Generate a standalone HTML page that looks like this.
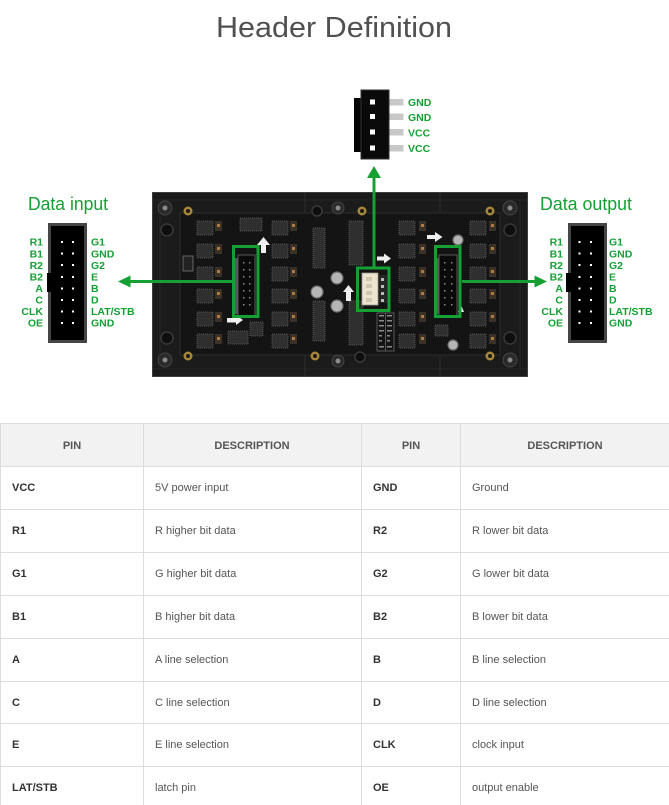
<!DOCTYPE html>
<html><head><meta charset="utf-8">
<style>
html,body{margin:0;padding:0;background:#fff;}
body{width:669px;height:805px;overflow:hidden;position:relative;}
svg{display:block;position:absolute;left:0;top:0;}
text{font-family:"Liberation Sans",Arial,sans-serif;}
</style></head>
<body>
<svg width="669" height="805" viewBox="0 0 669 805" xmlns="http://www.w3.org/2000/svg">
<rect x="0" y="0" width="669" height="805" fill="#fff"/>
<!-- Title -->
<text x="216" y="37" font-size="29" fill="#505050" textLength="236" lengthAdjust="spacingAndGlyphs">Header Definition</text>

<!-- ===== Panel ===== -->
<rect x="152.5" y="192.5" width="375" height="184" fill="#1b1b1b" stroke="#3e3e3e"/>
<rect x="180" y="213" width="320" height="142" fill="#141414" stroke="#2c2c2c"/>
<line x1="153" y1="200" x2="527" y2="200" stroke="#262626"/>
<line x1="153" y1="369" x2="527" y2="369" stroke="#262626"/>
<line x1="305" y1="193" x2="305" y2="213" stroke="#2c2c2c"/>
<line x1="440" y1="193" x2="440" y2="213" stroke="#2c2c2c"/>
<line x1="305" y1="355" x2="305" y2="376" stroke="#2c2c2c"/>
<line x1="440" y1="355" x2="440" y2="376" stroke="#2c2c2c"/>
<line x1="160" y1="200" x2="160" y2="370" stroke="#262626"/>
<line x1="520" y1="200" x2="520" y2="370" stroke="#262626"/>

<!-- side bosses -->
<g fill="#0e0e0e" stroke="#383838" stroke-width="1.5">
<circle cx="167" cy="230" r="6"/><circle cx="167" cy="338" r="6"/>
<circle cx="510" cy="230" r="6"/><circle cx="510" cy="338" r="6"/>
<circle cx="317" cy="211" r="5"/><circle cx="360" cy="357" r="5"/>
</g>
<!-- grey screws -->
<g>
<circle cx="165" cy="208" r="7" fill="#2a2a2a" stroke="#444"/><circle cx="165" cy="208" r="2.5" fill="#8a8a8a"/>
<circle cx="510" cy="208" r="7" fill="#2a2a2a" stroke="#444"/><circle cx="510" cy="208" r="2.5" fill="#8a8a8a"/>
<circle cx="165" cy="360" r="7" fill="#2a2a2a" stroke="#444"/><circle cx="165" cy="360" r="2.5" fill="#8a8a8a"/>
<circle cx="510" cy="360" r="7" fill="#2a2a2a" stroke="#444"/><circle cx="510" cy="360" r="2.5" fill="#8a8a8a"/>
<circle cx="338" cy="208" r="6" fill="#2a2a2a" stroke="#444"/><circle cx="338" cy="208" r="2.5" fill="#8a8a8a"/>
<circle cx="338" cy="361" r="6" fill="#2a2a2a" stroke="#444"/><circle cx="338" cy="361" r="2.5" fill="#8a8a8a"/>
</g>
<!-- gold screws -->
<g fill="#a8873a">
<circle cx="188" cy="211" r="4.5"/><circle cx="362" cy="211" r="4.5"/><circle cx="490" cy="211" r="4.5"/>
<circle cx="188" cy="356" r="4.5"/><circle cx="315" cy="356" r="4.5"/><circle cx="490" cy="356" r="4.5"/>
</g>
<g fill="#1a1a1a">
<circle cx="188" cy="211" r="2"/><circle cx="362" cy="211" r="2"/><circle cx="490" cy="211" r="2"/>
<circle cx="188" cy="356" r="2"/><circle cx="315" cy="356" r="2"/><circle cx="490" cy="356" r="2"/>
</g>

<!-- chips -->
<g fill="#2f2f2f" stroke="#555" stroke-width="1" stroke-dasharray="1,1">
<rect x="197" y="221" width="16" height="14"/><rect x="197" y="244" width="16" height="14"/><rect x="197" y="267" width="16" height="14"/>
<rect x="197" y="289" width="16" height="14"/><rect x="197" y="312" width="16" height="14"/><rect x="197" y="334" width="16" height="14"/>
<rect x="272" y="221" width="16" height="14"/><rect x="272" y="244" width="16" height="14"/><rect x="272" y="267" width="16" height="14"/>
<rect x="272" y="289" width="16" height="14"/><rect x="272" y="312" width="16" height="14"/><rect x="272" y="334" width="16" height="14"/>
<rect x="399" y="221" width="16" height="14"/><rect x="399" y="244" width="16" height="14"/><rect x="399" y="267" width="16" height="14"/>
<rect x="399" y="289" width="16" height="14"/><rect x="399" y="312" width="16" height="14"/><rect x="399" y="334" width="16" height="14"/>
<rect x="470" y="221" width="16" height="14"/><rect x="470" y="244" width="16" height="14"/><rect x="470" y="267" width="16" height="14"/>
<rect x="470" y="289" width="16" height="14"/><rect x="470" y="312" width="16" height="14"/><rect x="470" y="334" width="16" height="14"/>
<rect x="240" y="218" width="22" height="13"/><rect x="228" y="331" width="20" height="13"/>
<rect x="250" y="322" width="13" height="14"/><rect x="435" y="325" width="13" height="11"/>
<rect x="313" y="228" width="12" height="40"/><rect x="313" y="301" width="12" height="40"/>
<rect x="349" y="221" width="14" height="44"/><rect x="349" y="301" width="14" height="44"/>
</g>
<!-- small components -->
<g fill="#3a3128">
<rect x="215" y="221" width="7" height="10"/><rect x="215" y="244" width="7" height="10"/><rect x="215" y="267" width="7" height="10"/>
<rect x="215" y="289" width="7" height="10"/><rect x="215" y="312" width="7" height="10"/><rect x="215" y="334" width="7" height="10"/>
<rect x="290" y="221" width="7" height="10"/><rect x="290" y="244" width="7" height="10"/><rect x="290" y="267" width="7" height="10"/>
<rect x="290" y="289" width="7" height="10"/><rect x="290" y="312" width="7" height="10"/><rect x="290" y="334" width="7" height="10"/>
<rect x="419" y="221" width="7" height="10"/><rect x="419" y="244" width="7" height="10"/><rect x="419" y="267" width="7" height="10"/>
<rect x="419" y="289" width="7" height="10"/><rect x="419" y="312" width="7" height="10"/><rect x="419" y="334" width="7" height="10"/>
<rect x="489" y="221" width="7" height="10"/><rect x="489" y="244" width="7" height="10"/><rect x="489" y="267" width="7" height="10"/>
<rect x="489" y="289" width="7" height="10"/><rect x="489" y="312" width="7" height="10"/><rect x="489" y="334" width="7" height="10"/>
</g>
<g fill="#b07a3a">
<rect x="217" y="224" width="3" height="3"/><rect x="217" y="247" width="3" height="3"/><rect x="217" y="270" width="3" height="3"/>
<rect x="217" y="292" width="3" height="3"/><rect x="217" y="315" width="3" height="3"/><rect x="217" y="337" width="3" height="3"/>
<rect x="292" y="224" width="3" height="3"/><rect x="292" y="247" width="3" height="3"/><rect x="292" y="270" width="3" height="3"/>
<rect x="292" y="292" width="3" height="3"/><rect x="292" y="315" width="3" height="3"/><rect x="292" y="337" width="3" height="3"/>
<rect x="421" y="224" width="3" height="3"/><rect x="421" y="247" width="3" height="3"/><rect x="421" y="270" width="3" height="3"/>
<rect x="421" y="292" width="3" height="3"/><rect x="421" y="315" width="3" height="3"/><rect x="421" y="337" width="3" height="3"/>
<rect x="491" y="224" width="3" height="3"/><rect x="491" y="247" width="3" height="3"/><rect x="491" y="270" width="3" height="3"/>
<rect x="491" y="292" width="3" height="3"/><rect x="491" y="315" width="3" height="3"/><rect x="491" y="337" width="3" height="3"/>
</g>
<!-- left side component -->
<rect x="183" y="256" width="10" height="15" fill="#222" stroke="#777" stroke-width="0.8"/>
<!-- capacitors -->
<g fill="#b5b5b5" stroke="#6a6a6a" stroke-width="1.2">
<circle cx="337" cy="278" r="6"/><circle cx="317" cy="292" r="6"/><circle cx="337" cy="306" r="6"/>
<circle cx="458" cy="240" r="5"/><circle cx="453" cy="345" r="5"/>
</g>

<!-- internal header connectors -->
<rect x="234" y="258" width="4" height="56" fill="#5a5a5a"/>
<rect x="238" y="255" width="17" height="61" fill="#0a0a0a" stroke="#5a5a5a"/>
<rect x="436" y="258" width="3" height="56" fill="#5a5a5a"/>
<rect x="439" y="255" width="18" height="61" fill="#0a0a0a" stroke="#5a5a5a"/>
<g fill="#8a8a8a">
<rect x="243" y="262" width="1.5" height="1.5"/><rect x="249" y="262" width="1.5" height="1.5"/>
<rect x="243" y="269" width="1.5" height="1.5"/><rect x="249" y="269" width="1.5" height="1.5"/>
<rect x="243" y="276" width="1.5" height="1.5"/><rect x="249" y="276" width="1.5" height="1.5"/>
<rect x="243" y="283" width="1.5" height="1.5"/><rect x="249" y="283" width="1.5" height="1.5"/>
<rect x="243" y="290" width="1.5" height="1.5"/><rect x="249" y="290" width="1.5" height="1.5"/>
<rect x="243" y="297" width="1.5" height="1.5"/><rect x="249" y="297" width="1.5" height="1.5"/>
<rect x="243" y="304" width="1.5" height="1.5"/><rect x="249" y="304" width="1.5" height="1.5"/>
<rect x="444" y="262" width="1.5" height="1.5"/><rect x="451" y="262" width="1.5" height="1.5"/>
<rect x="444" y="269" width="1.5" height="1.5"/><rect x="451" y="269" width="1.5" height="1.5"/>
<rect x="444" y="276" width="1.5" height="1.5"/><rect x="451" y="276" width="1.5" height="1.5"/>
<rect x="444" y="283" width="1.5" height="1.5"/><rect x="451" y="283" width="1.5" height="1.5"/>
<rect x="444" y="290" width="1.5" height="1.5"/><rect x="451" y="290" width="1.5" height="1.5"/>
<rect x="444" y="297" width="1.5" height="1.5"/><rect x="451" y="297" width="1.5" height="1.5"/>
<rect x="444" y="304" width="1.5" height="1.5"/><rect x="451" y="304" width="1.5" height="1.5"/>
</g>
<!-- middle power connector -->
<rect x="362" y="273" width="16" height="32" fill="#ebe5d0" stroke="#9a9a8a" stroke-width="0.8"/>
<g fill="#cfc7ae">
<rect x="366" y="277" width="6" height="4"/><rect x="366" y="284" width="6" height="4"/>
<rect x="366" y="291" width="6" height="4"/><rect x="366" y="298" width="6" height="4"/>
</g>
<rect x="379" y="275" width="8" height="28" fill="#262626"/>
<g fill="#bbb">
<rect x="381" y="278" width="3" height="3"/><rect x="381" y="285" width="3" height="3"/>
<rect x="381" y="292" width="3" height="3"/><rect x="381" y="299" width="3" height="3"/>
</g>
<!-- silkscreen table -->
<g stroke="#777" stroke-width="0.7" fill="none">
<rect x="377" y="313" width="17" height="38"/>
<line x1="385.5" y1="313" x2="385.5" y2="351"/>
</g>
<g fill="#8a8a8a">
<rect x="379" y="315" width="5" height="1.5"/><rect x="387" y="315" width="5" height="1.5"/>
<rect x="379" y="320" width="5" height="1.5"/><rect x="387" y="320" width="5" height="1.5"/>
<rect x="379" y="325" width="5" height="1.5"/><rect x="387" y="325" width="5" height="1.5"/>
<rect x="379" y="330" width="5" height="1.5"/><rect x="387" y="330" width="5" height="1.5"/>
<rect x="379" y="335" width="3" height="1.5"/><rect x="387" y="335" width="3" height="1.5"/>
<rect x="379" y="340" width="3" height="1.5"/><rect x="387" y="340" width="3" height="1.5"/>
<rect x="379" y="346" width="5" height="1.5"/><rect x="387" y="346" width="5" height="1.5"/>
</g>
<!-- white arrows on board -->
<g fill="#eeeeee">
<rect x="261" y="244" width="5" height="9"/><polygon points="257,245 263.5,237 270,245"/>
<rect x="227" y="318" width="9" height="4.5"/><polygon points="236,315 243,320 236,325"/>
<rect x="377" y="256.5" width="8" height="4"/><polygon points="384,253.5 391,258.5 384,263.5"/>
<rect x="346" y="291" width="5" height="10"/><polygon points="343,292 348.5,285 354,292"/>
<rect x="427" y="235" width="9" height="4"/><polygon points="435,232 442.5,237 435,242"/>
<polygon points="458,312 461,305 464,312"/>
</g>

<!-- green boxes -->
<g fill="none" stroke="#16a034" stroke-width="3">
<rect x="233.5" y="246.5" width="24.5" height="70"/>
<rect x="357.5" y="268" width="31.5" height="42.5"/>
<rect x="435.5" y="246.5" width="24.5" height="70"/>
</g>
<!-- green connectors -->
<g stroke="#16a034" stroke-width="3" fill="none">
<line x1="232" y1="281.5" x2="128" y2="281.5"/>
<line x1="462" y1="281.5" x2="537" y2="281.5"/>
<line x1="374" y1="267" x2="374" y2="176"/>
</g>
<g fill="#16a034">
<polygon points="118,281.5 130.5,275.5 130.5,287.5"/>
<polygon points="547,281.5 534.5,275.5 534.5,287.5"/>
<polygon points="374,166 367,178 381,178"/>
</g>

<!-- top power connector -->
<rect x="354" y="98" width="8" height="54" fill="#050505"/>
<rect x="361" y="90" width="28" height="69" fill="#0a0a0a" stroke="#333" stroke-width="1"/>
<g fill="#fff">
<rect x="370" y="99.5" width="5" height="5"/><rect x="370" y="114" width="5" height="5"/>
<rect x="370" y="129.5" width="5" height="5"/><rect x="370" y="145.5" width="5" height="5"/>
</g>
<g fill="#c8c8c8">
<rect x="389.5" y="99" width="14" height="6.5"/><rect x="389.5" y="113.5" width="14" height="6.5"/>
<rect x="389.5" y="129" width="14" height="6.5"/><rect x="389.5" y="145" width="14" height="6.5"/>
</g>
<g font-size="10.5" font-weight="bold" fill="#16a034">
<text x="408" y="106">GND</text>
<text x="408" y="121">GND</text>
<text x="408" y="136.5">VCC</text>
<text x="408" y="152">VCC</text>
</g>

<!-- left header -->
<text x="28" y="210" font-size="18" fill="#16a034" textLength="80" lengthAdjust="spacingAndGlyphs">Data input</text>
<rect x="48" y="223" width="39" height="120" fill="#454545"/>
<rect x="51" y="226" width="33" height="114" fill="#000"/>
<rect x="47" y="273" width="5" height="19" fill="#000"/>
<g fill="#fff">
<rect x="61" y="241" width="2" height="2"/><rect x="72" y="241" width="2" height="2"/>
<rect x="61" y="252.5" width="2" height="2"/><rect x="72" y="252.5" width="2" height="2"/>
<rect x="61" y="264" width="2" height="2"/><rect x="72" y="264" width="2" height="2"/>
<rect x="61" y="276" width="2" height="2"/><rect x="72" y="276" width="2" height="2"/>
<rect x="61" y="287.5" width="2" height="2"/><rect x="72" y="287.5" width="2" height="2"/>
<rect x="61" y="299" width="2" height="2"/><rect x="72" y="299" width="2" height="2"/>
<rect x="61" y="310.5" width="2" height="2"/><rect x="72" y="310.5" width="2" height="2"/>
<rect x="61" y="322" width="2" height="2"/><rect x="72" y="322" width="2" height="2"/>
</g>
<g font-size="10.5" font-weight="bold" fill="#16a034" text-anchor="end">
<text x="43" y="245.7">R1</text><text x="43" y="257.3">B1</text><text x="43" y="268.8">R2</text><text x="43" y="280.4">B2</text>
<text x="43" y="292">A</text><text x="43" y="303.5">C</text><text x="43" y="315.1">CLK</text><text x="43" y="326.7">OE</text>
</g>
<g font-size="10.5" font-weight="bold" fill="#16a034">
<text x="91" y="245.7">G1</text><text x="91" y="257.3">GND</text><text x="91" y="268.8">G2</text><text x="91" y="280.4">E</text>
<text x="91" y="292">B</text><text x="91" y="303.5">D</text><text x="91" y="315.1">LAT/STB</text><text x="91" y="326.7">GND</text>
</g>

<!-- right header -->
<text x="540" y="210" font-size="18" fill="#16a034" textLength="92" lengthAdjust="spacingAndGlyphs">Data output</text>
<rect x="568" y="223" width="39" height="120" fill="#454545"/>
<rect x="571" y="226" width="33" height="114" fill="#000"/>
<rect x="566" y="273" width="6" height="19" fill="#000"/>
<g fill="#fff">
<rect x="578.5" y="241" width="2" height="2"/><rect x="590" y="241" width="2" height="2"/>
<rect x="578.5" y="252.5" width="2" height="2"/><rect x="590" y="252.5" width="2" height="2"/>
<rect x="578.5" y="264" width="2" height="2"/><rect x="590" y="264" width="2" height="2"/>
<rect x="578.5" y="276" width="2" height="2"/><rect x="590" y="276" width="2" height="2"/>
<rect x="578.5" y="287.5" width="2" height="2"/><rect x="590" y="287.5" width="2" height="2"/>
<rect x="578.5" y="299" width="2" height="2"/><rect x="590" y="299" width="2" height="2"/>
<rect x="578.5" y="310.5" width="2" height="2"/><rect x="590" y="310.5" width="2" height="2"/>
<rect x="578.5" y="322" width="2" height="2"/><rect x="590" y="322" width="2" height="2"/>
</g>
<g font-size="10.5" font-weight="bold" fill="#16a034" text-anchor="end">
<text x="563" y="245.7">R1</text><text x="563" y="257.3">B1</text><text x="563" y="268.8">R2</text><text x="563" y="280.4">B2</text>
<text x="563" y="292">A</text><text x="563" y="303.5">C</text><text x="563" y="315.1">CLK</text><text x="563" y="326.7">OE</text>
</g>
<g font-size="10.5" font-weight="bold" fill="#16a034">
<text x="609" y="245.7">G1</text><text x="609" y="257.3">GND</text><text x="609" y="268.8">G2</text><text x="609" y="280.4">E</text>
<text x="609" y="292">B</text><text x="609" y="303.5">D</text><text x="609" y="315.1">LAT/STB</text><text x="609" y="326.7">GND</text>
</g>

<!-- ===== Table ===== -->
<rect x="0" y="423" width="670" height="43" fill="#f2f2f2"/>
<g stroke="#dddddd" stroke-width="1">
<line x1="0" y1="423.5" x2="669" y2="423.5"/>
<line x1="0" y1="466.5" x2="669" y2="466.5"/>
<line x1="0" y1="509.5" x2="669" y2="509.5"/>
<line x1="0" y1="552.5" x2="669" y2="552.5"/>
<line x1="0" y1="595.5" x2="669" y2="595.5"/>
<line x1="0" y1="638.5" x2="669" y2="638.5"/>
<line x1="0" y1="681.5" x2="669" y2="681.5"/>
<line x1="0" y1="723.5" x2="669" y2="723.5"/>
<line x1="0" y1="766.5" x2="669" y2="766.5"/>
<line x1="0.5" y1="423" x2="0.5" y2="805"/>
<line x1="143.5" y1="423" x2="143.5" y2="805"/>
<line x1="361.5" y1="423" x2="361.5" y2="805"/>
<line x1="460.5" y1="423" x2="460.5" y2="805"/>
</g>
<g font-size="11" font-weight="bold" fill="#555" text-anchor="middle">
<text x="72" y="449">PIN</text>
<text x="252" y="449">DESCRIPTION</text>
<text x="411" y="449">PIN</text>
<text x="565" y="449">DESCRIPTION</text>
</g>
<g font-size="11" font-weight="bold" fill="#333">
<text x="12" y="491">VCC</text><text x="373" y="491">GND</text>
<text x="12" y="534">R1</text><text x="373" y="534">R2</text>
<text x="12" y="577">G1</text><text x="373" y="577">G2</text>
<text x="12" y="620">B1</text><text x="373" y="620">B2</text>
<text x="12" y="663">A</text><text x="373" y="663">B</text>
<text x="12" y="706">C</text><text x="373" y="706">D</text>
<text x="12" y="748">E</text><text x="373" y="748">CLK</text>
<text x="12" y="791">LAT/STB</text><text x="373" y="791">OE</text>
</g>
<g font-size="11" fill="#555">
<text x="155" y="491">5V power input</text><text x="472" y="491">Ground</text>
<text x="155" y="534">R higher bit data</text><text x="472" y="534">R lower bit data</text>
<text x="155" y="577">G higher bit data</text><text x="472" y="577">G lower bit data</text>
<text x="155" y="620">B higher bit data</text><text x="472" y="620">B lower bit data</text>
<text x="155" y="663">A line selection</text><text x="472" y="663">B line selection</text>
<text x="155" y="706">C line selection</text><text x="472" y="706">D line selection</text>
<text x="155" y="748">E line selection</text><text x="472" y="748">clock input</text>
<text x="155" y="791">latch pin</text><text x="472" y="791">output enable</text>
</g>
</svg>
</body></html>
